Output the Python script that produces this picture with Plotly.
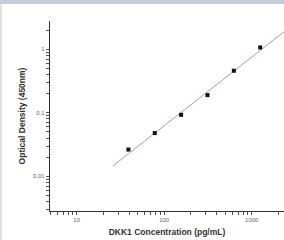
import plotly.graph_objects as go

conc = [39, 78, 156, 312.5, 625, 1250]
od = [0.0264, 0.048, 0.093, 0.19, 0.46, 1.07]
fit_x = [26, 3000]
fit_y = [0.0146, 2.47]

x_ticks = [5, 6, 7, 8, 9, 10, 20, 30, 40, 50, 60, 70, 80, 90, 100,
           200, 300, 400, 500, 600, 700, 800, 900, 1000, 2000]
x_text = ["10" if v == 10 else "100" if v == 100 else "1000" if v == 1000 else "" for v in x_ticks]
y_ticks = [0.003, 0.004, 0.005, 0.006, 0.007, 0.008, 0.009, 0.01,
           0.02, 0.03, 0.04, 0.05, 0.06, 0.07, 0.08, 0.09, 0.1,
           0.2, 0.3, 0.4, 0.5, 0.6, 0.7, 0.8, 0.9, 1, 2]
y_text = ["0.01" if v == 0.01 else "0.1" if v == 0.1 else "1" if v == 1 else "" for v in y_ticks]

fig = go.Figure()
fig.add_trace(go.Scatter(x=fit_x, y=fit_y, mode="lines",
                         line=dict(color="#c09696", width=1), hoverinfo="skip"))
fig.add_trace(go.Scatter(x=conc, y=od, mode="markers",
                         marker=dict(symbol="square", size=4, color="#111111")))

axis_font = dict(family="Liberation Sans", size=6, color="#666666")
title_font = dict(family="Liberation Sans", size=8.5, color="#333333")

fig.update_xaxes(type="log", range=[0.695, 3.369], showgrid=False, zeroline=False,
                 showline=True, linecolor="#333333", linewidth=1.3,
                 ticks="outside", ticklen=3, tickwidth=1, tickcolor="#555555",
                 tickvals=x_ticks, ticktext=x_text, tickfont=axis_font,
                 title=dict(text="<b>DKK1 Concentration (pg/mL)</b>", font=title_font, standoff=6))
fig.update_yaxes(type="log", range=[-2.546, 0.446], showgrid=False, zeroline=False,
                 showline=True, linecolor="#333333", linewidth=1.3,
                 ticks="outside", ticklen=3, tickwidth=1, tickcolor="#555555",
                 tickvals=y_ticks, ticktext=y_text, tickfont=axis_font,
                 title=dict(text="<b>Optical Density (450nm)</b>", font=title_font, standoff=5))

plot_w = 234.0
plot_h = 190.0
fig.update_layout(
    width=284, height=240, showlegend=False,
    margin=dict(l=50, r=0, t=21, b=29),
    paper_bgcolor="white", plot_bgcolor="white",
    annotations=[
        dict(xref="paper", yref="paper", x=-50 / plot_w, y=211 / plot_h,
             xanchor="left", yanchor="top", text=" ", showarrow=False,
             width=284, height=4, borderpad=0, borderwidth=0,
             bgcolor="#c5cdda", font=dict(size=1)),
        dict(xref="paper", yref="paper", x=-50 / plot_w, y=207 / plot_h,
             xanchor="left", yanchor="top", text=" ", showarrow=False,
             width=2, height=236, borderpad=0, borderwidth=0,
             bgcolor="#e2e2e2", font=dict(size=1)),
    ],
)

fig.write_html("out.html", config={"displayModeBar": False},
               post_script=("document.body.style.margin='0';"
                            "document.body.style.overflow='hidden';"))
